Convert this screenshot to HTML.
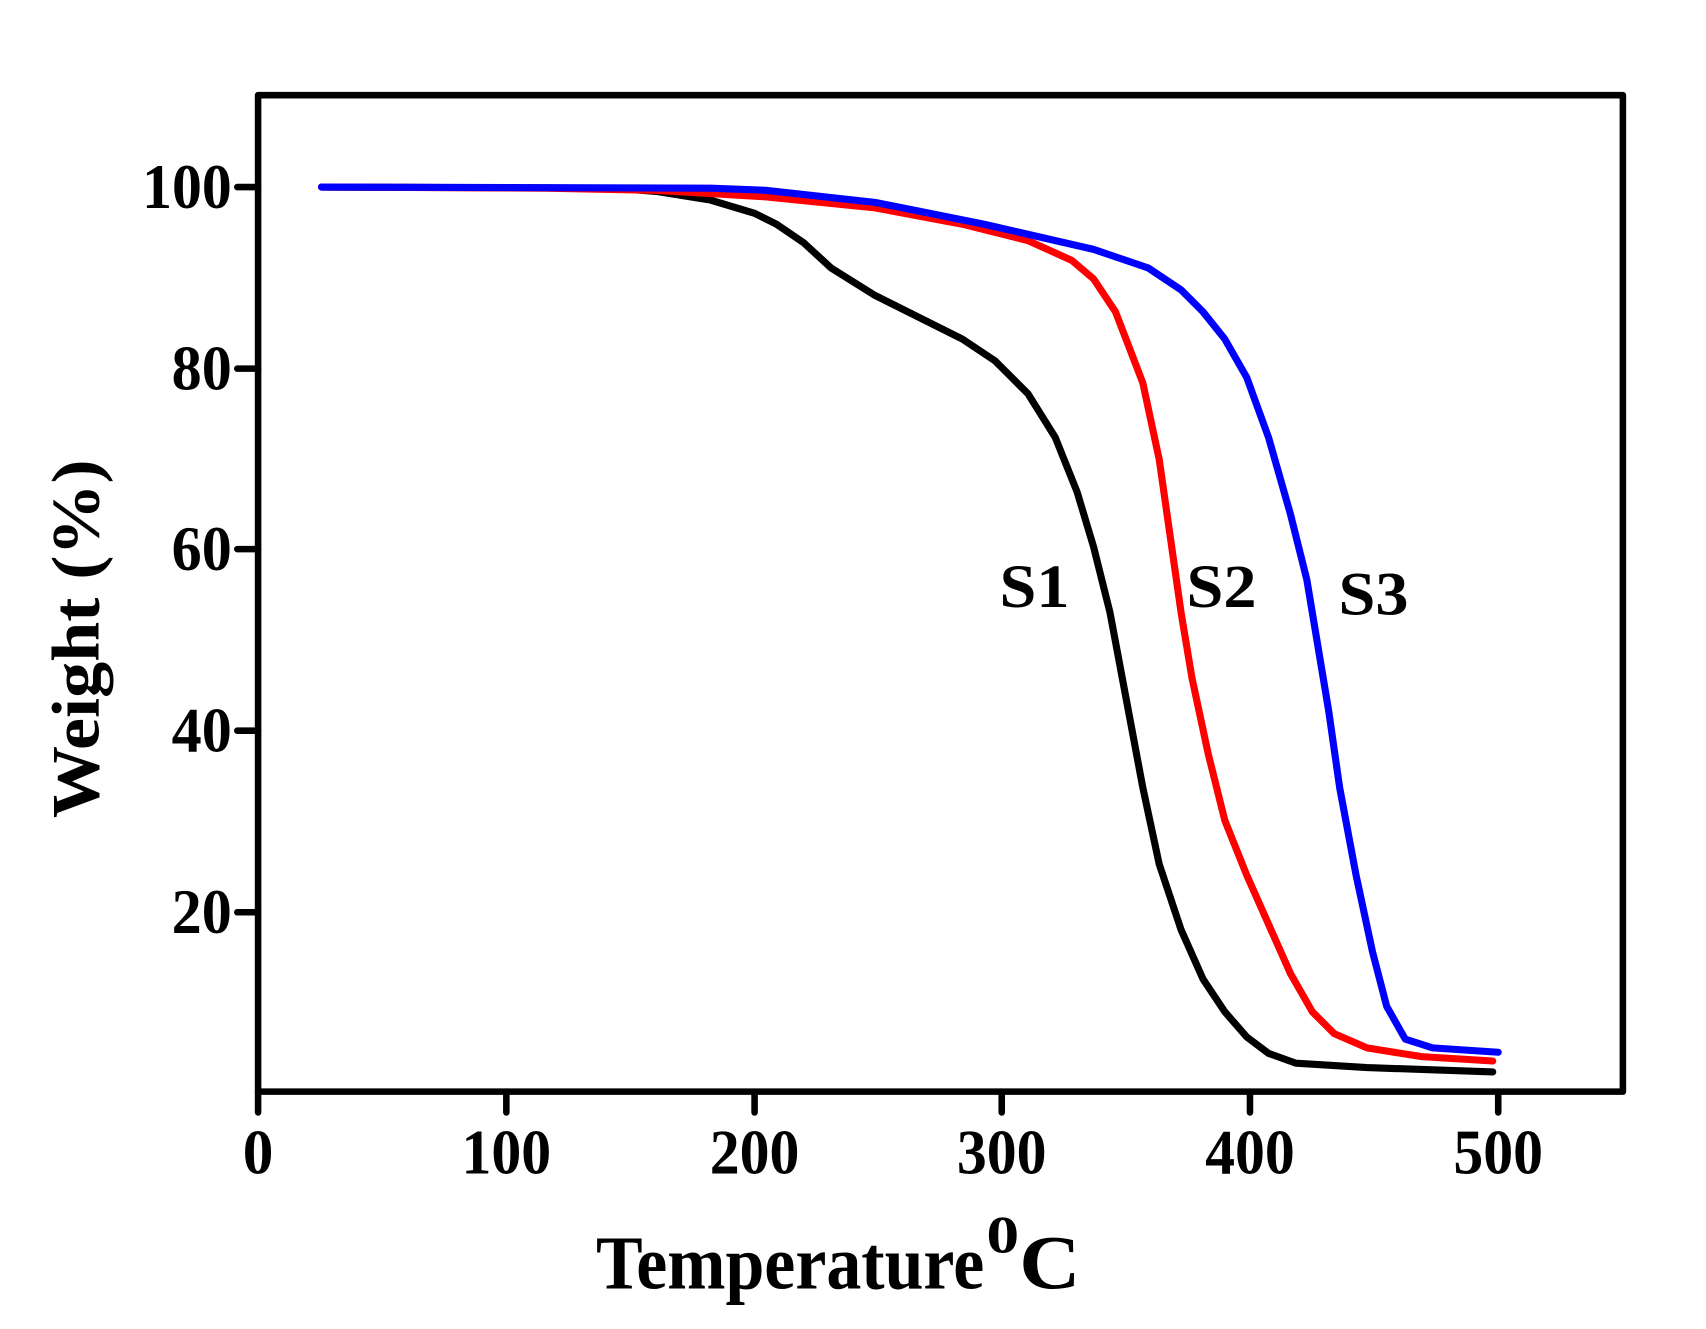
<!DOCTYPE html>
<html><head><meta charset="utf-8"><style>html,body{margin:0;padding:0;background:#fff;}svg{display:block}</style></head>
<body>
<svg width="1706" height="1329" viewBox="0 0 1560 1215" preserveAspectRatio="none" xmlns="http://www.w3.org/2000/svg">
<rect width="1560" height="1215" fill="#fff"/>
<g font-family="Liberation Serif, serif" font-weight="bold" fill="#000">
<g stroke="#000" stroke-width="6" stroke-linecap="round">
<line x1="236" y1="998" x2="236" y2="1017"/>
<line x1="463" y1="998" x2="463" y2="1017"/>
<line x1="690" y1="998" x2="690" y2="1017"/>
<line x1="916" y1="998" x2="916" y2="1017"/>
<line x1="1143" y1="998" x2="1143" y2="1017"/>
<line x1="1370" y1="998" x2="1370" y2="1017"/>
<line x1="217" y1="171" x2="236" y2="171"/>
<line x1="217" y1="337" x2="236" y2="337"/>
<line x1="217" y1="502" x2="236" y2="502"/>
<line x1="217" y1="668" x2="236" y2="668"/>
<line x1="217" y1="834" x2="236" y2="834"/>
</g>
<rect x="236" y="87" width="1248" height="911" fill="none" stroke="#000" stroke-width="6" stroke-linejoin="round"/>
<g font-size="58" text-anchor="middle">
<text x="236" y="1073" textLength="28" lengthAdjust="spacingAndGlyphs">0</text>
<text x="463" y="1073" textLength="82" lengthAdjust="spacingAndGlyphs">100</text>
<text x="690" y="1073" textLength="82" lengthAdjust="spacingAndGlyphs">200</text>
<text x="916" y="1073" textLength="82" lengthAdjust="spacingAndGlyphs">300</text>
<text x="1143" y="1073" textLength="82" lengthAdjust="spacingAndGlyphs">400</text>
<text x="1370" y="1073" textLength="82" lengthAdjust="spacingAndGlyphs">500</text>
</g>
<g font-size="58" text-anchor="end">
<text x="212" y="190" textLength="82" lengthAdjust="spacingAndGlyphs">100</text>
<text x="212" y="356" textLength="55" lengthAdjust="spacingAndGlyphs">80</text>
<text x="212" y="521" textLength="55" lengthAdjust="spacingAndGlyphs">60</text>
<text x="212" y="687" textLength="55" lengthAdjust="spacingAndGlyphs">40</text>
<text x="212" y="853" textLength="55" lengthAdjust="spacingAndGlyphs">20</text>
</g>
<text x="545" y="1178" font-size="70" textLength="355" lengthAdjust="spacingAndGlyphs">Temperature</text>
<text x="902" y="1145" font-size="48" textLength="30" lengthAdjust="spacingAndGlyphs">0</text>
<text x="932" y="1178" font-size="70" textLength="56" lengthAdjust="spacingAndGlyphs">C</text>
<text transform="translate(90,584) rotate(-90)" font-size="62" text-anchor="middle" textLength="328" lengthAdjust="spacingAndGlyphs">Weight (%)</text>
<g font-size="56">
<text x="914" y="555" textLength="64" lengthAdjust="spacingAndGlyphs">S1</text>
<text x="1085" y="555" textLength="64" lengthAdjust="spacingAndGlyphs">S2</text>
<text x="1224" y="562" textLength="64" lengthAdjust="spacingAndGlyphs">S3</text>
</g>
</g>
<g fill="none" stroke-width="6.5" stroke-linejoin="round" stroke-linecap="round">
<polyline stroke="#000" points="294,171 560,172 600,175 650,183 690,195 710,205 735,222 760,245 800,270 840,290 880,310 910,330 940,360 965,400 985,450 1000,500 1015,560 1030,640 1045,720 1060,790 1080,850 1100,895 1120,925 1140,948 1160,963 1185,972 1250,976 1365,980"/>
<polyline stroke="#ff0000" points="294,171 500,172 600,174 700,180 800,190 880,205 940,220 980,238 1000,255 1020,285 1045,350 1060,420 1070,490 1080,560 1090,620 1105,690 1120,750 1140,800 1160,845 1180,890 1200,925 1220,945 1250,958 1300,966 1365,970"/>
<polyline stroke="#0000ff" points="294,171 650,172 700,174 800,185 900,205 1000,228 1050,245 1080,265 1100,285 1120,310 1140,345 1160,400 1180,470 1195,530 1205,590 1215,650 1225,720 1240,800 1255,870 1268,920 1285,950 1310,958 1370,962"/>
</g>
</svg>
</body></html>
